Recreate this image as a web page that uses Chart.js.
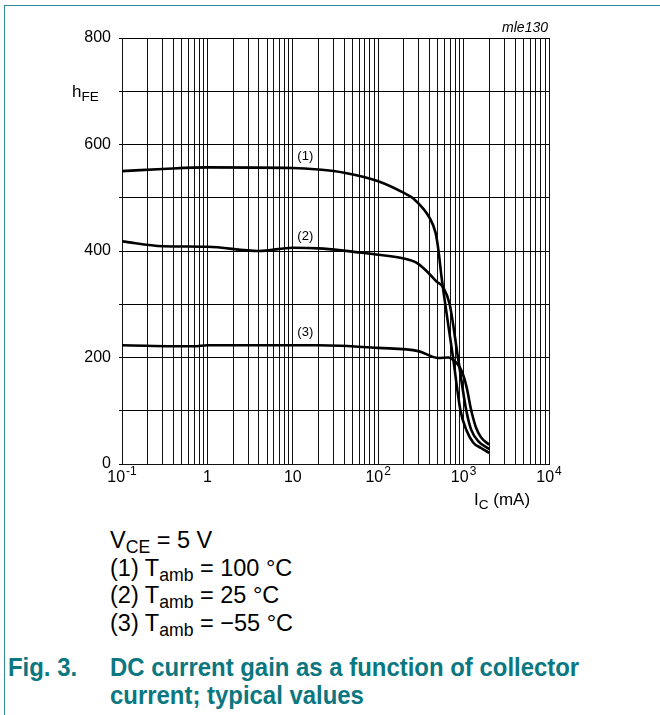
<!DOCTYPE html>
<html>
<head>
<meta charset="utf-8">
<script src="https://cdn.jsdelivr.net/npm/chart.js@4.4.1/dist/chart.umd.min.js"></script>
<style>
  html, body { margin: 0; padding: 0; background: #fff; }
  body { width: 660px; height: 715px; position: relative; overflow: hidden;
         font-family: "Liberation Sans", Arial, sans-serif; color: #000; }
  #frameTop { position: absolute; left: 4px; top: 5px; width: 656px; height: 0; border-top: 1.5px solid #2b8c95; }
  #frameLeft { position: absolute; left: 4px; top: 5px; width: 0; height: 710px; border-left: 1.5px solid #2b8c95; }
  #wrap { position: absolute; left: 0; top: 0; width: 660px; height: 520px; }
  .t { position: absolute; white-space: nowrap; line-height: 1; }
  .t sub { font-size: 0.8em; vertical-align: -0.3em; line-height: 0; }
  .note { font-size: 23.5px; left: 110px; }
  .note sub { font-size: 0.75em; }
  .cap { font-size: 26px; font-weight: bold; color: #0b7780; transform: scaleX(0.92); transform-origin: left center; }
</style>
</head>
<body>
<div id="frameTop"></div>
<div id="frameLeft"></div>
<div id="wrap"><canvas id="hfeChart" width="660" height="520"></canvas></div>

<div class="t" style="right:112px;top:20px;font-size:14px;font-style:italic;">mle130</div>
<div class="t" style="left:72px;top:83px;font-size:17px;">h<sub>FE</sub></div>
<div class="t" style="left:474px;top:491px;font-size:17px;">I<sub>C</sub> (mA)</div>

<div class="t note" style="top:529px;">V<sub>CE</sub> = 5 V</div>
<div class="t note" style="top:557px;">(1) T<sub>amb</sub> = 100 °C</div>
<div class="t note" style="top:584px;">(2) T<sub>amb</sub> = 25 °C</div>
<div class="t note" style="top:612px;">(3) T<sub>amb</sub> = −55 °C</div>

<div class="t cap" style="left:8px;top:654px;">Fig. 3.</div>
<div class="t cap" style="left:110px;top:654px;">DC current gain as a function of collector</div>
<div class="t cap" style="left:110px;top:682px;">current; typical values</div>

<script>
// collector current (mA) and hFE
const curve1I = [0.1, 0.3, 1, 10, 20, 40, 100, 200, 260, 400, 470, 506, 550, 610, 752, 920, 1077, 1300, 1600, 2000];
const curve1H = [550, 554, 557, 556, 553, 547, 531, 509, 498, 462, 434, 403, 353, 300, 200, 100, 64, 40, 30, 21];

const curve2I = [0.1, 0.3, 1, 4, 10, 20, 100, 200, 280, 370, 480, 580, 687, 859, 1077, 1230, 1500, 2000];
const curve2H = [418, 409, 408, 400, 406, 405, 393, 386, 378, 362, 343, 331, 300, 200, 100, 64, 42, 28];

const curve3I = [0.1, 0.7, 1, 20, 100, 295, 506, 660, 800, 900, 1000, 1100, 1200, 1300, 1400, 1600, 2000];
const curve3H = [223, 221, 223, 223, 218, 212, 199, 200, 192, 182, 165, 140, 108, 85, 68, 50, 36];

// axes
const xDecades = [0.1, 1, 10, 100, 1000, 10000];
const xTickLabels = [["10", "-1"], ["1", ""], ["10", ""], ["10", "2"], ["10", "3"], ["10", "4"]];
const yTicks = [0, 100, 200, 300, 400, 500, 600, 700, 800];
const yTickLabels = ["0", "", "200", "", "400", "", "600", "", "800"];

// curve tags (1) (2) (3)
const tagText = ["(1)", "(2)", "(3)"];
const tagI = [14, 14, 14];
const tagH = [578, 428, 248];

const toPoints = (xs, ys) => xs.map((x, i) => ({ x, y: ys[i] }));

const gridTicks = [];
xDecades.forEach((d, i) => {
  if (i === xDecades.length - 1) { gridTicks.push(d); return; }
  for (let k = 1; k <= 9; k++) gridTicks.push(+(d * k).toPrecision(3));
});

const lineStyle = {
  borderColor: "#000",
  borderWidth: 2.6,
  pointRadius: 0,
  fill: false,
  cubicInterpolationMode: "monotone",
};

const overlay = {
  id: "overlay",
  afterDraw(chart) {
    const { ctx, scales: { x, y } } = chart;
    ctx.save();
    ctx.fillStyle = "#000";
    // x tick labels with superscripts
    xDecades.forEach((d, i) => {
      const [base, sup] = xTickLabels[i];
      ctx.font = "16px 'Liberation Sans', Arial, sans-serif";
      const wb = ctx.measureText(base).width;
      ctx.font = "12px 'Liberation Sans', Arial, sans-serif";
      const ws = sup ? ctx.measureText(sup).width + 1 : 0;
      const px = x.getPixelForValue(d);
      const left = px - (wb + ws) / 2;
      ctx.textBaseline = "alphabetic";
      ctx.textAlign = "left";
      ctx.font = "16px 'Liberation Sans', Arial, sans-serif";
      ctx.fillText(base, left, y.bottom + 18);
      if (sup) {
        ctx.font = "12px 'Liberation Sans', Arial, sans-serif";
        ctx.fillText(sup, left + wb + 1, y.bottom + 11);
      }
    });
    // curve tags
    ctx.font = "13px 'Liberation Sans', Arial, sans-serif";
    ctx.textAlign = "center";
    ctx.textBaseline = "middle";
    tagText.forEach((t, i) => {
      ctx.fillText(t, x.getPixelForValue(tagI[i]), y.getPixelForValue(tagH[i]));
    });
    ctx.restore();
  },
};

new Chart(document.getElementById("hfeChart"), {
  type: "line",
  data: {
    datasets: [
      { ...lineStyle, label: "(1)", data: toPoints(curve1I, curve1H) },
      { ...lineStyle, label: "(2)", data: toPoints(curve2I, curve2H) },
      { ...lineStyle, label: "(3)", data: toPoints(curve3I, curve3H) },
    ],
  },
  options: {
    responsive: false,
    animation: false,
    layout: { padding: { left: 0, top: 38, right: 111, bottom: 0 } },
    plugins: { legend: { display: false }, tooltip: { enabled: false } },
    scales: {
      x: {
        type: "logarithmic",
        min: 0.1,
        max: 10000,
        afterBuildTicks: (s) => { s.ticks = gridTicks.map(v => ({ value: v })); },
        afterFit: (s) => { s.height = 56; },
        ticks: { display: false },
        grid: { color: "#111", lineWidth: 1, drawTicks: false },
        border: { color: "#111", width: 1 },
      },
      y: {
        min: 0,
        max: 800,
        afterBuildTicks: (s) => { s.ticks = yTicks.map(v => ({ value: v })); },
        afterFit: (s) => { s.width = 122; },
        ticks: {
          color: "#000",
          font: { family: "'Liberation Sans', Arial, sans-serif", size: 16 },
          padding: 8,
          callback: (v) => yTickLabels[yTicks.indexOf(v)],
        },
        grid: { color: "#000", lineWidth: 1, tickLength: 3 },
        border: { color: "#111", width: 1 },
      },
    },
  },
  plugins: [overlay],
});
</script>
</body>
</html>
